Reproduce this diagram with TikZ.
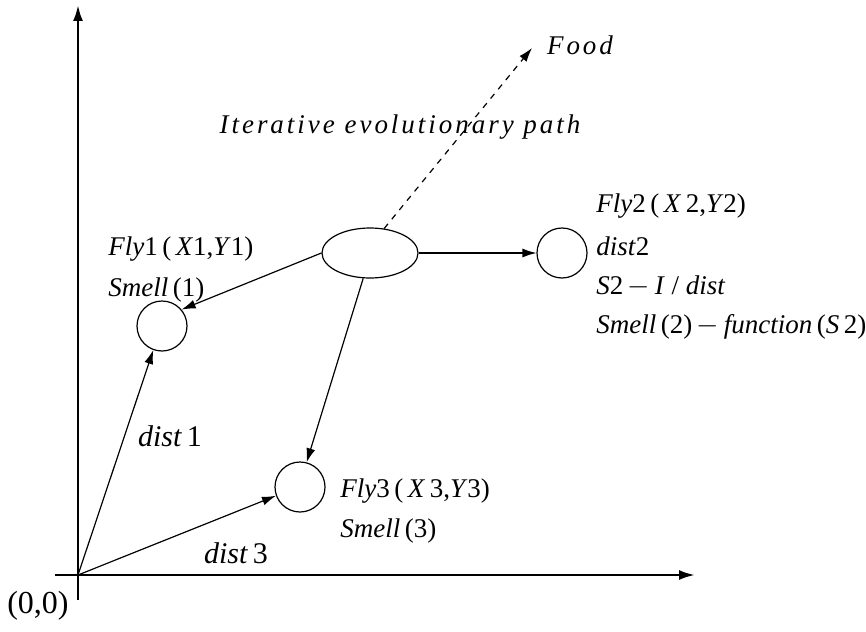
\documentclass[tikz,border=0pt]{standalone}
\usepackage{fontspec}
\setmainfont{Liberation Serif}
\newfontfamily\spacedit[LetterSpace=11]{Liberation Serif Italic}
\usepackage{tikz}
\usetikzlibrary{arrows.meta,positioning,calc,shapes.geometric}

\tikzset{
  fly/.style={circle,draw,line width=0.6pt,minimum size=25pt,inner sep=0pt},
  lbl/.style={font=\fontsize{13.5}{15}\selectfont,anchor=west,inner sep=0pt},
  arr/.style={-{Latex[length=7pt,width=4.5pt]},line width=0.6pt},
  axis/.style={-{Latex[length=8pt,width=5pt]},line width=1.2pt}
}

\begin{document}
\begin{tikzpicture}[x=0.5pt,y=-0.5pt]
        \useasboundingbox (0,0) rectangle (866,631);

        % Achsen
        \coordinate (origin) at (78,575);
        \coordinate (xend) at (695,575);
        \coordinate (yend) at (78,5);
        \draw[axis] (55,575) -- (xend);
        \draw[axis] (78,600) -- (yend);
        \node[font=\fontsize{16}{18}\selectfont] (zero) at (38,606){(0,0)};

        % Schwarm und Fliegen
        \node[ellipse,draw,line width=0.6pt,minimum width=48pt,minimum height=25pt,
              inner sep=0pt] (swarm) at (370,253){};
        \node[fly] (fly1) at (162,326){};
        \node[fly] (fly2) at (562,253){};
        \node[fly] (fly3) at (300,487){};
        \coordinate (food) at (532,48);

        % Pfeile
        \draw[arr,dashed] (swarm.60) -- (food);
        \draw[arr] (swarm.west) -- (fly1.40);
        \draw[arr] (swarm.east) -- (fly2.west);
        \draw[arr] (swarm.255) -- (fly3.75);
        \draw[arr] (origin) -- (fly1.250);
        \draw[arr] (origin) -- (fly3.200);

        % Texte
        \node[font=\spacedit\fontsize{13.5}{15}\selectfont,anchor=west] (foodlbl) at (540,45){Food};
        \node[font=\spacedit\fontsize{13.5}{15}\selectfont] (path) at (400,127){Iterative evolutionary path};

        \node[lbl] (f1a) at (108,249){\textit{Fly}1\,(\,\textit{X}1,\textit{Y}1)};
        \node[lbl] (f1b) at (108,290){\textit{Smell}\,(1)};

        \node[lbl] (f2a) at (596,206){\textit{Fly}2\,(\,\textit{X}\,2,\textit{Y}2)};
        \node[lbl] (f2b) at (596,246){\textit{dist}2};
        \node[lbl] (f2c) at (596,286){\textit{S}2\,$-$\,\textit{I} / \textit{dist}};
        \node[lbl] (f2d) at (596,327){\textit{Smell}\,(2)\,$-$\,\textit{function}\,(\textit{S}\,2)};

        \node[lbl] (f3a) at (340,491){\textit{Fly}3\,(\,\textit{X}\,3,\textit{Y}3)};
        \node[lbl] (f3b) at (340,531){\textit{Smell}\,(3)};

        \node[font=\fontsize{15}{17}\selectfont] (d1) at (170,436){\textit{dist}\,1};
        \node[font=\fontsize{15}{17}\selectfont] (d3) at (236,553){\textit{dist}\,3};
\end{tikzpicture}
\end{document}
